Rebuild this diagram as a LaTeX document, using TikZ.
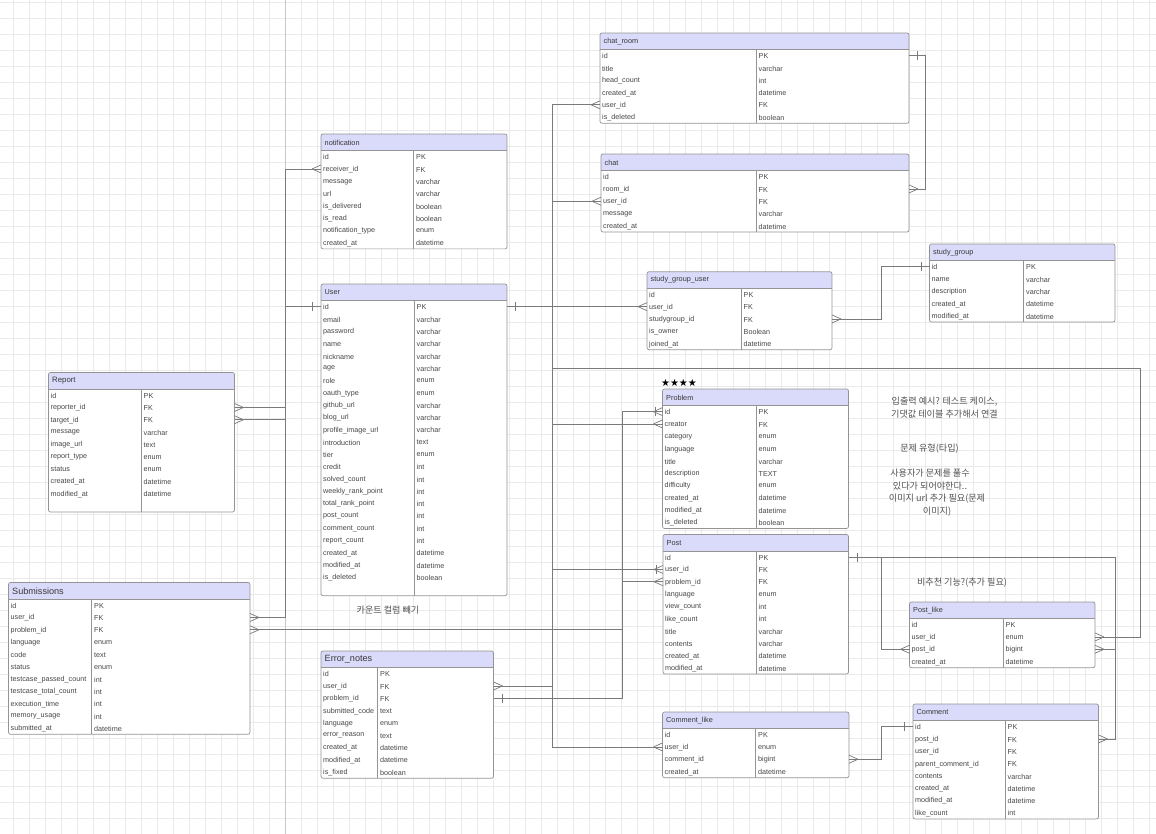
\documentclass[tikz,border=0pt]{standalone}
\usepackage{fontspec}
\setmainfont{Liberation Sans}
\newfontfamily\krfont{Noto Sans CJK KR}
\newfontfamily\symfont{DejaVu Sans}
\usetikzlibrary{calc}

\definecolor{erhead}{RGB}{218,218,250}
\definecolor{ergrid}{RGB}{234,234,234}

\tikzset{
  tbl/.style={draw=black!42, line width=0.7pt, rounded corners=2pt},
  fld/.style={font=\fontsize{7.2}{8}\selectfont, text=black!72, inner sep=0pt, anchor=west},
  hdrtxt/.style={font=\fontsize{7.3}{8}\selectfont, text=black!78, inner sep=0pt, anchor=west},
  conn/.style={draw=black!52, line width=0.7pt},
  gridln/.style={draw=ergrid, line width=0.5pt},
  pageln/.style={draw=black!22, line width=0.6pt},
  note/.style={font=\krfont\fontsize{9.1}{13}\selectfont, text=black!68, align=center, inner sep=0pt},
}

% table: name, title, left, top, right, divider, rows, field/type list
\newcommand{\erdtable}[8]{%
  \pgfmathsetmacro{\erbot}{#4+16.5+#7*12.3}
  \begin{scope}
    \clip[rounded corners=2pt] (#3,#4) rectangle (#5,\erbot);
    \fill[white] (#3,#4) rectangle (#5,\erbot);
    \fill[erhead] (#3,#4) rectangle (#5,#4+16.5);
  \end{scope}
  \draw[tbl] (#3,#4) rectangle (#5,\erbot);
  \draw[tbl] (#3,#4+16.5) -- (#5,#4+16.5);
  \draw[tbl] (#6,#4+16.5) -- (#6,\erbot);
  \node[hdrtxt] (#1) at (#3+3.5,#4+8.4) {#2};
  \foreach \f/\t [count=\i] in {#8} {
    \coordinate (#1-l\i) at (#3,#4+16.5+\i*12.3-6.15);
    \coordinate (#1-r\i) at (#5,#4+16.5+\i*12.3-6.15);
    \node[fld] (#1-f\i) at ($(#1-l\i)+(2,0.6)$) {\f};
    \node[fld] (#1-t\i) at (#6+2.5,#4+16.5+\i*12.3-5.55) {\t};
  }
}
% connector ends
\newcommand{\manyW}[1]{\draw[conn] ($(#1)+(-9,0)$) -- ($(#1)+(0,-4)$) ($(#1)+(-9,0)$) -- ($(#1)+(0,4)$);}
\newcommand{\manyE}[1]{\draw[conn] ($(#1)+(9,0)$) -- ($(#1)+(0,-4)$) ($(#1)+(9,0)$) -- ($(#1)+(0,4)$);}
\newcommand{\oneW}[1]{\draw[conn] ($(#1)+(-8.5,-4.5)$) -- ($(#1)+(-8.5,4.5)$);}
\newcommand{\oneE}[1]{\draw[conn] ($(#1)+(8.5,-4.5)$) -- ($(#1)+(8.5,4.5)$);}
\newcommand{\somemanyW}[1]{\manyW{#1}\draw[conn] ($(#1)+(-7,-4.5)$) -- ($(#1)+(-7,4.5)$);}

\begin{document}
\catcode`\_=12
\begin{tikzpicture}[x=1pt, y=-1pt]
  \useasboundingbox (0,0) rectangle (1156,834);
  \fill[white] (0,0) rectangle (1156,834);
  \foreach \gx in {13,29,...,1156} \draw[gridln] (\gx,0) -- (\gx,834);
  \foreach \gy in {2,18,...,834} \draw[gridln] (0,\gy) -- (1156,\gy);
  \draw[pageln] (285,0) -- (285,834);

  % bus lines
  \coordinate (ubus) at (552,0);
  \coordinate (lbus) at (285.5,0);
  \coordinate (pbus) at (622,0);
  \coordinate (crbus) at (925.5,0);
  \coordinate (rbus) at (881,0);
  \coordinate (pobus) at (1115,0);
  \coordinate (plbus) at (1140,368);

  \erdtable{chatroom}{chat_room}{600}{33}{909}{756}{6}{id/PK, title/varchar, head_count/int, created_at/datetime, user_id/FK, is_deleted/boolean}
  \erdtable{notif}{notification}{321}{134}{507}{413.5}{8}{id/PK, receiver_id/FK, message/varchar, url/varchar, is_delivered/boolean, is_read/boolean, notification_type/enum, created_at/datetime}
  \erdtable{chat}{chat}{601}{154}{909}{756}{5}{id/PK, room_id/FK, user_id/FK, message/varchar, created_at/datetime}
  \erdtable{sgu}{study_group_user}{647}{271.7}{832}{741}{5}{id/PK, user_id/FK, studygroup_id/FK, is_owner/Boolean, joined_at/datetime}
  \erdtable{sg}{study_group}{929.5}{244}{1115}{1023.5}{5}{id/PK, name/varchar, description/varchar, created_at/datetime, modified_at/datetime}
  \erdtable{user}{User}{321}{284}{507}{414}{24}{id/PK, email/varchar, password/varchar, name/varchar, nickname/varchar, age/varchar, role/enum, oauth_type/enum, github_url/varchar, blog_url/varchar, profile_image_url/varchar, introduction/text, tier/enum, credit/int, solved_count/int, weekly_rank_point/int, total_rank_point/int, post_count/int, comment_count/int, report_count/int, created_at/datetime, modified_at/datetime, is_deleted/boolean}
  \erdtable{report}{\fontsize{7.8}{9}\selectfont Report}{48.5}{372.5}{234.5}{141}{10}{id/PK, reporter_id/FK, target_id/FK, message/varchar, image_url/text, report_type/enum, status/enum, created_at/datetime, modified_at/datetime}
  \erdtable{subm}{\fontsize{9.1}{10}\selectfont Submissions}{8.5}{582.5}{250}{91.5}{11}{id/PK, user_id/FK, problem_id/FK, language/enum, code/text, status/enum, testcase_passed_count/int, testcase_total_count/int, execution_time/int, memory_usage/int, submitted_at/datetime}
  \erdtable{problem}{Problem}{662.5}{389}{848.5}{756}{10}{id/PK, creator/FK, category/enum, language/enum, title/varchar, description/TEXT, difficulty/enum, created_at/datetime, modified_at/datetime, is_deleted/boolean}
  \erdtable{post}{Post}{663}{534.5}{848.5}{756}{10}{id/PK, user_id/FK, problem_id/FK, language/enum, view_count/int, like_count/int, title/varchar, contents/varchar, created_at/datetime, modified_at/datetime}
  \erdtable{postlike}{Post_like}{909.5}{602}{1095}{1003}{4}{id/PK, user_id/enum, post_id/bigint, created_at/datetime}
  \erdtable{errn}{\fontsize{9.1}{10}\selectfont Error_notes}{321}{651}{493.5}{377.5}{9}{id/PK, user_id/FK, problem_id/FK, submitted_code/text, language/enum, error_reason/text, created_at/datetime, modified_at/datetime, is_fixed/boolean}
  \erdtable{cmtlike}{Comment_like}{662.5}{712}{849}{755.5}{4}{id/PK, user_id/enum, comment_id/bigint, created_at/datetime}
  \erdtable{comment}{Comment}{913}{704}{1098.5}{1005}{8}{id/PK, post_id/FK, user_id/FK, parent_comment_id/FK, contents/varchar, created_at/datetime, modified_at/datetime, like_count/int}

  % User relations
  \draw[conn] (user-r1) -| (ubus |- chatroom-l5) -- (chatroom-l5);
  \draw[conn] (user-r1) -| (ubus |- chat-l3) -- (chat-l3);
  \draw[conn] (user-r1) -- (sgu-l2);
  \draw[conn] (user-r1) -| (ubus |- problem-l2) -- (problem-l2);
  \draw[conn] (user-r1) -| (ubus |- post-l2) -- (post-l2);
  \draw[conn] (user-r1) -| (ubus |- errn-r2) -- (errn-r2);
  \draw[conn] (user-r1) -| (ubus |- cmtlike-l2) -- (cmtlike-l2);
  \draw[conn] (user-r1) -| (ubus |- plbus) -- (plbus) |- (postlike-r2);
  \draw[conn] (user-l1) -| (lbus |- notif-l2) -- (notif-l2);
  \draw[conn] (user-l1) -| (lbus |- report-r2) -- (report-r2);
  \draw[conn] (user-l1) -| (lbus |- report-r3) -- (report-r3);
  \draw[conn] (user-l1) -| (lbus |- subm-r2) -- (subm-r2);
  % Problem relations
  \draw[conn] (problem-l1) -| (pbus |- post-l3) -- (post-l3);
  \draw[conn] (problem-l1) -| (pbus |- subm-r3) -- (subm-r3);
  \draw[conn] (problem-l1) -| (pbus |- errn-r3) -- (errn-r3);
  % others
  \draw[conn] (chatroom-r1) -| (crbus |- chat-r2) -- (chat-r2);
  \draw[conn] (sg-l1) -| (rbus |- sgu-r3) -- (sgu-r3);
  \draw[conn] (post-r1) -| (rbus |- postlike-l3) -- (postlike-l3);
  \draw[conn] (post-r1) -| (pobus |- postlike-r3) -- (postlike-r3);
  \draw[conn] (post-r1) -| (pobus |- comment-r2) -- (comment-r2);
  \draw[conn] (comment-l1) -| (rbus |- cmtlike-r3) -- (cmtlike-r3);

  % ends
  \oneE{user-r1} \oneW{user-l1}
  \manyW{chatroom-l5} \manyW{chat-l3} \manyW{sgu-l2} \manyW{problem-l2}
  \somemanyW{post-l2} \manyE{errn-r2} \manyW{cmtlike-l2} \manyE{postlike-r2}
  \manyW{notif-l2} \manyE{report-r2} \manyE{report-r3} \manyE{subm-r2}
  \somemanyW{problem-l1} \manyW{post-l3} \manyE{subm-r3} \oneE{errn-r3}
  \oneE{chatroom-r1} \manyE{chat-r2} \oneW{sg-l1} \manyE{sgu-r3}
  \oneE{post-r1} \manyW{postlike-l3} \manyE{postlike-r3} \manyE{comment-r2}
  \oneW{comment-l1} \manyE{cmtlike-r3}

  % notes
  \node[inner sep=0pt, font=\symfont\fontsize{10}{10}\selectfont] (stars) at (679,382.5) {★★★★};
  \node[note] (countnote) at (388,610) {카운트 컬럼 빼기};
  \node[note] (ionote) at (944.5,407.5) {입출력 예시? 테스트 케이스,\\기댓값 테이블 추가해서 연결};
  \node[note] (typenote) at (929.5,449) {문제 유형(타입)};
  \node[note] (solvenote) at (930,480) {사용자가 문제를 풀수\\있다가 되어야한다..};
  \node[note] (imgnote) at (937,505) {이미지 url 추가 필요(문제\\이미지)};
  \node[note] (dislikenote) at (962,582.7) {비추천 기능?(추가 필요)};
\end{tikzpicture}
\end{document}
